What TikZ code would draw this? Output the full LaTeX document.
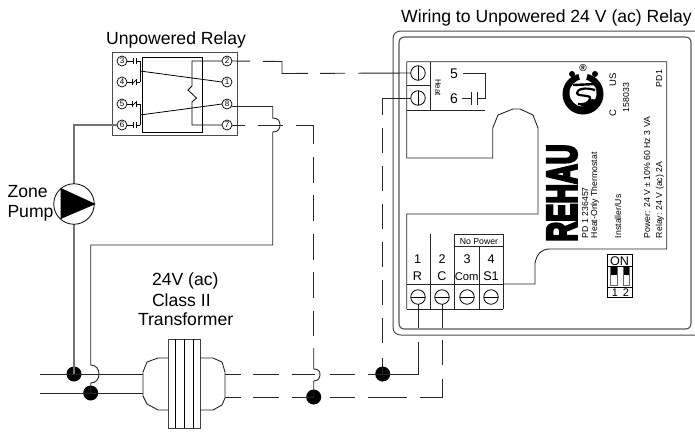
\documentclass[tikz,border=0pt]{standalone}
\usepackage{fontspec}
\setmainfont{Liberation Sans}
\newfontfamily\rehaufont[FakeBold=7]{Liberation Sans Bold}
\newcommand{\fsz}[1]{\fontsize{#1}{#1}\selectfont}
\tikzset{
  wire/.style={line width=0.9pt,color=black!85},
  graywire/.style={line width=1.2pt,color=black!55},
  panel/.style={line width=0.9pt,color=black!85},
  label/.style={inner sep=0pt,outer sep=0pt,font=\fsz{17.6},anchor=base},
  small/.style={inner sep=0pt,outer sep=0pt,font=\fsz{8.7},anchor=base west,rotate=90},
  termtext/.style={inner sep=0pt,outer sep=0pt,font=\fsz{12.6},anchor=base},
  pin/.style={circle,draw,line width=0.7pt,minimum size=10pt,inner sep=0pt,outer sep=0pt,font=\fsz{8}},
  screw/.style={circle,draw,fill=white,line width=0.8pt,minimum size=14.5pt,inner sep=0pt,outer sep=0pt},
  dot/.style={circle,fill=black,minimum size=15pt,inner sep=0pt,outer sep=0pt},
}
\begin{document}
\begin{tikzpicture}[x=1pt,y=-1pt]
\useasboundingbox (0,0) rectangle (695,432);
\fill[white] (0,0) rectangle (695,432);

% outer and inner housing
\draw[line width=1pt,color=black!70] (695,31) -- (401,31) .. controls (396,31) and (393,34) .. (393,39) -- (393,327) .. controls (393,332) and (396,335) .. (401,335) -- (695,335);
\draw[line width=1.2pt,color=black!65] (405,37) -- (685,37) .. controls (689,37) and (691,39) .. (691,43) -- (691,323) .. controls (691,327) and (689,329) .. (685,329) -- (405,329) .. controls (401,329) and (399,327) .. (399,323) -- (399,43) .. controls (399,39) and (401,37) .. (405,37) -- cycle;

% panel outline
\draw[panel] (406.7,158) -- (492.7,158) -- (492.7,128) -- (498,115) -- (513,109) -- (520,109) -- (533,115) -- (538,128) -- (538,214) -- (406.7,214) -- (406.7,309);
\draw[panel] (406.7,158) -- (406.7,61.7) -- (666.7,61.7) -- (666.7,249) -- (550,249) .. controls (541,249) and (537,254) .. (535,263) -- (535,284) -- (503,284);

% top terminals
\draw[panel] (430,61.7) -- (430,110);
\draw[panel] (406.7,85.7) -- (430,85.7);
\draw[panel] (406.7,110) -- (485,110);
\node[screw] (t5) at (418,73) {};
\node[screw] (t6) at (418,98) {};
\draw[line width=0.8pt] (t5.north) -- (t5.south);
\draw[line width=0.8pt] (t6.north) -- (t6.south);
\node[inner sep=0pt,font=\fsz{8},rotate=-90] (heat) at (438,87.5) {Heat};
\node[termtext,font=\fsz{14}] (n5) at (454,78) {5};
\node[termtext,font=\fsz{14}] (n6) at (454,103) {6};
\coordinate (c5a) at (463,73);
\coordinate (c5b) at (485.7,73);
\coordinate (c6b) at (485.7,98);
\coordinate (c6p) at (477,98);
\coordinate (c6q) at (471,98);
\coordinate (c6a) at (462,98);
\draw[wire] (c5a) -- (c5b) -- (c6b) -- (c6p);
\draw[wire] (c6a) -- (c6q);
\draw[wire] (471,92) -- (471,105);
\draw[wire] (477,92) -- (477,105);

% lower terminal block
\draw[panel] (430,234) -- (430,309);
\draw[panel] (454.5,234) -- (454.5,309);
\draw[panel] (479,246) -- (479,309);
\draw[panel] (503,234) -- (503,309);
\draw[panel] (454.5,234) -- (503,234);
\draw[panel] (454.5,246) -- (503,246);
\draw[panel] (406.7,284) -- (503,284);
\draw[panel] (406.7,309) -- (503,309);
\node[inner sep=0pt,font=\fsz{8.7},anchor=base] (np) at (479,244) {No Power};
\foreach \x/\a/\b in {417.5/1/R,442/2/C,467/3/{},491/4/S1}{
  \node[termtext] at (\x,263) {\a};
  \node[termtext] at (\x,280) {\b};
}
\node[termtext,font=\fsz{11.2}] (com) at (466.7,280) {Com};
\foreach \n/\x in {r1/418,r2/442,r3/467,r4/491}{
  \node[screw] (\n) at (\x,297) {};
  \draw[line width=0.8pt] (\n.west) -- (\n.east);
}

% rotated panel text
\node[small,font=\fsz{9.5}] (ctxt) at (616,116) {C};
\node[small,font=\fsz{9.5}] (ustxt) at (616,86) {US};
\node[small] (num) at (629,112) {158033};
\node[small] (pd1) at (662,87) {PD1};
\node[small] (pow) at (650,238) {Power: 24 V ± 10\% 60 Hz 3 VA};
\node[small] (rly) at (662,238) {Relay: 24 V (ac) 2A};
\node[small] (inst) at (621,238) {Installer/Us};
\node[small] (pd) at (588,238) {PD 1 236457};
\node[small] (hot) at (597,238) {Heat-Only Thermostat};

% UL mark
\fill[black] (583,94) circle (20.5);
\fill[black] (572,74) circle (3);
\fill[black] (595,74) circle (3);
\fill[white] (583,92) -- (577,68) -- (589,68) -- cycle;
\fill[white] (583,93) circle (13.5);
\draw[line width=2.4pt] (573,85) -- (596,84);
\draw[line width=2.2pt] (595,90) .. controls (585,87) and (577,89) .. (577,93) .. controls (577,97) and (592,94) .. (590,99) .. controls (589,103) and (583,105) .. (578,104);
\fill[black] (580,106) -- (592,99) -- (597,100) -- (590,108) -- cycle;
\node[inner sep=0pt,font=\fsz{10}\bfseries] (reg) at (583,68) {®};

% REHAU logo
\node[inner sep=0pt,rotate=90] (rehau) at (562,193) {\resizebox{97pt}{29pt}{\rehaufont REHAU}};

% DIP switch
\node[draw,line width=0.7pt,minimum width=25pt,minimum height=43pt,inner sep=0pt] (dip) at (619.5,275.5) {};
\node[inner sep=0pt,font=\fsz{12.6},anchor=base] (on) at (619.5,265) {ON};
\draw[line width=0.7pt] (607,266) -- (632,266);
\draw[line width=0.7pt] (607,287) -- (632,287);
\draw[line width=0.5pt,color=black!60] (610,267) rectangle (617,285);
\draw[line width=0.5pt,color=black!60] (623,267) rectangle (629,285);
\fill[black] (610.5,267) rectangle (616.5,275);
\fill[black] (623.5,267) rectangle (628.5,275);
\node[inner sep=0pt,font=\fsz{11},anchor=base] (d1) at (615,296.5) {1};
\node[inner sep=0pt,font=\fsz{11},anchor=base] (d2) at (626,296.5) {2};

% titles
\node[label] (ttl) at (546.5,22) {Wiring to Unpowered 24 V (ac) Relay};
\node[label] (urel) at (176,44) {Unpowered Relay};
\node[label,anchor=base west] (zone) at (7.5,197) {Zone};
\node[label,anchor=base west] (pmp) at (7.5,217) {Pump};
\node[label,anchor=base west] (t1) at (152,285) {24V (ac)};
\node[label,anchor=base west] (t2) at (152,306) {Class II};
\node[label,anchor=base west] (t3) at (138,325) {Transformer};

% relay
\node[draw,line width=1pt,color=black!70,minimum width=124.5pt,minimum height=83pt,inner sep=0pt] (relay) at (175,93.5) {};
\draw[line width=0.8pt] (142,57) rectangle (202,132);
\node[pin] (p3) at (122,61) {3};
\node[pin] (p4) at (122,82) {4};
\node[pin] (p5) at (122,104) {5};
\node[pin] (p6) at (122,125) {6};
\node[pin] (p2) at (227,61) {2};
\node[pin] (p1) at (227,82) {1};
\node[pin] (p8) at (227,104) {8};
\node[pin] (p7) at (227,125) {7};
% contacts
\foreach \y/\n in {61/p3,125/p6}{
  \draw[line width=0.7pt] (\n.east) -- (133,\y);
  \draw[line width=0.7pt] (133,\y-3) -- (133,\y+3);
  \draw[line width=0.7pt] (136,\y-3) -- (136,\y+3);
  \draw[line width=0.7pt] (136,\y) -- (140,\y);
}
\foreach \y/\n in {82/p4,104/p5}{
  \draw[line width=0.7pt] (\n.east) -- (132,\y);
  \draw[line width=0.7pt] (132,\y-3) -- (132,\y+3);
  \draw[line width=0.7pt] (136,\y-3) -- (136,\y+3);
  \draw[line width=0.7pt] (132,\y+2) -- (136,\y-2);
  \draw[line width=0.7pt] (136,\y) -- (140,\y);
}
\draw[line width=0.8pt] (140,61) -- (140,82);
\draw[line width=0.8pt] (140,104) -- (140,125);
\draw[line width=0.8pt] (140,71) -- (p1.west);
\draw[line width=0.8pt] (140,115) -- (p8.west);
\draw[line width=0.8pt] (p2.west) -- (192,61) -- (192,86) -- (188,90) -- (196.5,98) -- (192,102) -- (192,125) -- (p7.west);

% pump
\node[dot] (jL1) at (74,374) {};
\node[dot] (jL2) at (90.7,393) {};
\node[dot] (jR1) at (382.7,374) {};
\node[dot] (jR2) at (313.7,397) {};
\draw[graywire] (p6.west) -- (74,125) -- (jL1.center);
\node[circle,draw,fill=white,line width=0.8pt,minimum size=40.5pt,inner sep=0pt,outer sep=0pt] (pump) at (74,204) {};
\fill[black] (60.7,188) -- (95.7,204) -- (60.7,219) -- cycle;

% transformer
\node[draw,line width=0.8pt,color=black!75,minimum width=32pt,minimum height=89pt,inner sep=0pt] (core) at (184,383.5) {};
\draw[line width=0.8pt] (175,339) -- (175,428);
\draw[line width=0.8pt] (184,339) -- (184,428);
\draw[line width=0.8pt] (193,339) -- (193,428);
\coordinate (bl1) at (143,374);
\coordinate (bl2) at (143,393);
\coordinate (br1) at (225,374);
\coordinate (br2) at (225,397);
\draw[wire] (168,358) -- (158,358) -- (147,362) -- (143,372) -- (143,396) -- (147,404) -- (158,410) -- (168,410);
\draw[wire] (200,358) -- (213,358) -- (222,362) -- (225,372) -- (225,398) -- (222,405) -- (213,410) -- (200,410);
\coordinate (in1) at (40,374);
\coordinate (in2) at (40,393);
\draw[wire] (in1) -- (bl1);
\draw[wire] (in2) -- (bl2);

% wire 8 to transformer side
\draw[wire] (p8.330) -- (272.7,106.5) -- (272.7,118) .. controls (278,118) and (280,121) .. (280,125) .. controls (280,129) and (278,132) .. (272.7,132) -- (272.7,245) -- (90.7,245) -- (90.7,365) .. controls (96,365) and (99,369) .. (99,374) .. controls (99,379) and (96,383) .. (90.7,383) -- (jL2.center);

% dashed wires
\draw[wire,dash pattern=on 18 off 13 on 57 off 12 on 25 off 13 on 60 off 100] (p2.east) -- (282,61.5) -- (282,73.5) -- (t5.west);
\draw[wire] (t6.west) -- (382.7,98) -- (382.7,115);
\draw[wire,dash pattern=on 25.3 off 12.7] (382.7,128) -- (382.7,345);
\draw[wire] (382.7,358) -- (jR1.center);
\draw[wire] (p7.east) -- (245,125);
\draw[wire] (258,125) -- (283,125);
\draw[wire] (296,125) -- (313.7,125) -- (313.7,144);
\draw[wire,dash pattern=on 25.7 off 12.7] (313.7,157) -- (313.7,337);
\draw[wire] (313.7,348) -- (313.7,369) .. controls (318,369) and (320,371) .. (320,374.5) .. controls (320,378) and (318,381) .. (313.7,381) -- (jR2.center);
\draw[wire,dash pattern=on 16 off 12 on 26 off 13 on 23 off 15 on 25 off 13 on 30] (br1) -- (jR1.center);
\draw[wire,dash pattern=on 16 off 12 on 26 off 13 on 40] (br2) -- (jR2.center);
\draw[wire,dash pattern=on 67 off 14 on 40] (jR1.center) -- (418,374) -- (r1.south);
\draw[wire,dash pattern=on 0 off 16 on 25 off 13 on 39 off 13 on 40 off 14 on 25 off 12 on 40] (jR2.center) -- (442,397) -- (r2.south);
\end{tikzpicture}
\end{document}
